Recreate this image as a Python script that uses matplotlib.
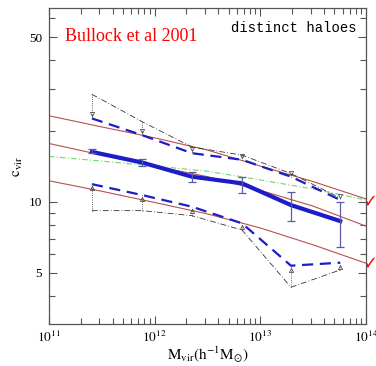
import matplotlib
matplotlib.use("Agg")
import matplotlib.pyplot as plt
from matplotlib.ticker import LogLocator, FixedLocator, NullFormatter, FixedFormatter
import numpy as np

plt.rcParams["mathtext.fontset"] = "stix"

# halo masses of the binned points (h^-1 Msun)
mass = [2.55e11, 7.6e11, 2.25e12, 6.7e12, 1.95e13, 5.7e13]

# median concentration and its error bar ends
c_med = [16.3, 14.7, 12.8, 12.0, 9.7, 8.3]
c_err_lo = [16.1, 14.2, 12.1, 10.95, 8.33, 6.47]
c_err_hi = [16.7, 15.2, 13.4, 12.8, 11.06, 10.03]

# 1-sigma spread (blue dashed) and the 68% limits (black dash-dot)
c_up = [22.6, 19.2, 16.1, 15.1, 12.8, 10.2]
c_lo = [11.9, 10.7, 9.55, 8.12, 5.37, 5.53]
c_up_lim = [28.6, 21.9, 17.1, 15.8, 13.2, 10.4]
c_lo_lim = [9.19, 9.19, 8.75, 7.61, 4.35, 5.15]

# model curves
m_model = [1e11, 10**11.5, 1e12, 10**12.5, 1e13, 10**13.5, 1e14]
red_up = [23.2, 20.8, 18.7, 16.6, 14.2, 12.2, 10.3]
red_mid = [17.7, 15.8, 14.2, 12.8, 11.2, 9.6, 7.9]
red_lo = [12.3, 11.1, 9.95, 8.9, 7.76, 6.58, 5.5]
green = [15.6, 14.9, 14.2, 13.5, 12.4, 11.35, 10.2]

fig = plt.figure(figsize=(3.76, 3.66), dpi=100)
ax = fig.add_axes([0.1303, 0.1148, 0.8431, 0.8625])
ax.set_xscale("log")
ax.set_yscale("log")

red = "#b8504f"
for ys in (red_up, red_mid, red_lo):
    ax.plot(m_model, ys, color=red, lw=0.8)
ax.plot(m_model, green, color="#6fd66f", lw=0.8, ls=(0, (5, 2, 1, 2)))

dd = (0, (7, 2.5, 1, 2.5))
ax.plot(mass, c_up_lim, color="#333333", lw=0.6, ls=dd)
ax.plot(mass, c_lo_lim, color="#333333", lw=0.6, ls=dd)
for m, a, b in zip(mass, c_up_lim, c_up):
    ax.plot([m, m], [a, b], color="#333333", lw=0.6, ls=":")
    ax.plot(m, b * 1.04, marker="v", ms=3, mfc="none", mec="#333333", mew=0.5)
for m, a, b in zip(mass, c_lo_lim, c_lo):
    ax.plot([m, m], [a, b], color="#333333", lw=0.6, ls=":")
    ax.plot(m, b * 0.96, marker="^", ms=3, mfc="none", mec="#333333", mew=0.5)

blue = "#1c1cc8"
ax.plot(mass, c_up, color=blue, lw=1.6, ls=(0, (5, 3)))
ax.plot(mass, c_lo, color=blue, lw=1.6, ls=(0, (5, 3)))
ax.plot(mass, c_med, color=blue, lw=3)
yerr = [np.array(c_med) - np.array(c_err_lo), np.array(c_err_hi) - np.array(c_med)]
ax.errorbar(mass, c_med, yerr=yerr, fmt="none", ecolor="#5a5aa8", elinewidth=0.9,
            capsize=3, capthick=0.9)

# arrows cut off at the right edge
for yv in (10.2, 5.55):
    ax.plot(1.012, yv, transform=ax.get_yaxis_transform(), marker=r"$\checkmark$",
            color="red", ms=7, clip_on=False, markeredgewidth=0)

ax.set_xlim(1e11, 1e14)
ax.set_ylim(3.04, 66.2)

serif = "Liberation Serif"
ax.xaxis.set_major_locator(FixedLocator([1e11, 1e12, 1e13, 1e14]))
ax.xaxis.set_major_formatter(FixedFormatter([r"$10^{11}$", r"$10^{12}$", r"$10^{13}$", r"$10^{14}$"]))
ax.xaxis.set_minor_locator(LogLocator(base=10, subs=np.arange(2, 10)))
ax.xaxis.set_minor_formatter(NullFormatter())
ax.yaxis.set_major_locator(FixedLocator([5, 10, 50]))
ax.yaxis.set_major_formatter(FixedFormatter(["5", "10", "50"]))
ax.yaxis.set_minor_locator(FixedLocator([4, 6, 7, 8, 9, 20, 30, 40, 60]))
ax.yaxis.set_minor_formatter(NullFormatter())
ax.tick_params(which="both", direction="in", top=True, right=True, color="#555555",
               labelsize=9.5, width=0.8)
ax.tick_params(which="major", length=6)
ax.tick_params(axis="x", which="major", pad=4)
ax.tick_params(axis="y", which="major", pad=5)
ax.tick_params(which="minor", length=4)
for lab in ax.get_xticklabels() + ax.get_yticklabels():
    lab.set_family(serif)
for s in ax.spines.values():
    s.set_color("#555555")
    s.set_linewidth(0.9)

ax.set_xlabel(r"$\mathrm{M_{vir}(h^{-1}M_{\odot})}$", fontsize=11, labelpad=0)
ax.set_ylabel(r"$\mathrm{c_{vir}}$", fontsize=11, labelpad=3)

ax.text(0.05, 0.895, "Bullock et al 2001", transform=ax.transAxes, color="red",
        family=serif, fontsize=13)
ax.text(0.97, 0.925, "distinct haloes", transform=ax.transAxes, ha="right",
        family="Liberation Mono", fontsize=10)

plt.savefig("out.png", dpi=100)
